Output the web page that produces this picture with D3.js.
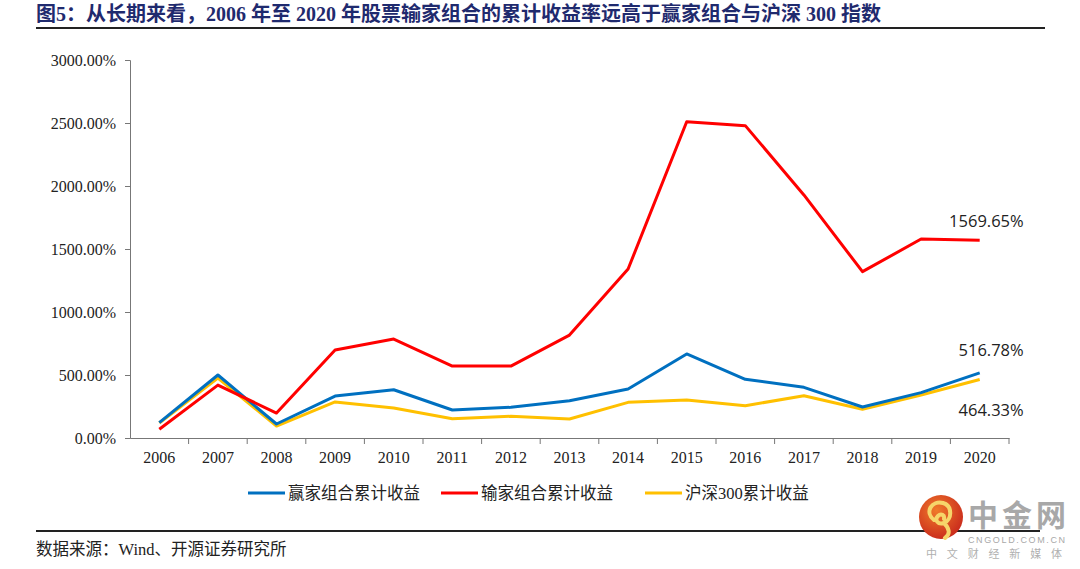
<!DOCTYPE html>
<html>
<head>
<meta charset="utf-8">
<script src="https://cdn.jsdelivr.net/npm/d3@7"></script>
<style>
body { margin: 0; background: #fff; }
svg { display: block; }
</style>
</head>
<body>
<script>
// data
var years = ['2006', '2007', '2008', '2009', '2010', '2011', '2012', '2013',
             '2014', '2015', '2016', '2017', '2018', '2019', '2020'];
var winners = [122, 500, 111, 333, 383, 222, 244, 296, 389, 667, 466, 402, 246, 360, 516.78];
var losers = [70, 420, 198, 698, 785, 571, 571, 817, 1341, 2510, 2479, 1929, 1320, 1579, 1569.65];
var hs300 = [119, 476, 95, 286, 238, 153, 172, 151, 283, 302, 256, 336, 228, 341, 464.33];
var yTicks = [0, 500, 1000, 1500, 2000, 2500, 3000];
var seriesNames = ['赢家组合累计收益', '输家组合累计收益', '沪深300累计收益'];
var colors = ['#0070c0', '#ff0000', '#ffc000'];

var w = 1080;
var h = 569;
var serif = '"Liberation Serif", "Noto Sans CJK SC", serif';

var svg = d3.select('body')
    .append('svg')
    .attr('width', w)
    .attr('height', h);

// title
svg.append('text')
    .attr('x', 36)
    .attr('y', 21)
    .attr('font-family', serif)
    .attr('font-weight', 'bold')
    .attr('font-size', '20px')
    .attr('fill', '#1f2a6e')
    .attr('textLength', 845)
    .text('图5：从长期来看，2006 年至 2020 年股票输家组合的累计收益率远高于赢家组合与沪深 300 指数');

svg.append('line')
    .attr('x1', 36).attr('x2', 1045)
    .attr('y1', 28).attr('y2', 28)
    .attr('stroke', '#222').attr('stroke-width', 2);

var xScale = d3.scaleBand()
    .domain(years)
    .range([130, 1009]);

var yScale = d3.scaleLinear()
    .domain([0, 3000])
    .range([438, 60]);

// y axis
var yAxis = svg.append('g')
    .attr('transform', 'translate(130,0)')
    .call(d3.axisLeft(yScale).tickValues(yTicks).tickSize(5).tickPadding(9)
        .tickFormat(d => d3.format('.2f')(d) + '%'));
yAxis.select('.domain').attr('stroke', '#777');
yAxis.selectAll('.tick line').attr('stroke', '#777');
yAxis.selectAll('text')
    .attr('font-family', serif)
    .attr('font-size', '16px')
    .attr('fill', '#222');

// x axis, ticks on the band edges
var xAxis = svg.append('g')
    .attr('transform', 'translate(0,438)')
    .call(d3.axisBottom(xScale).tickSize(0).tickPadding(14));
xAxis.select('.domain').attr('stroke', '#777');
xAxis.selectAll('text')
    .attr('font-family', serif)
    .attr('font-size', '16px')
    .attr('fill', '#222');
xAxis.selectAll('.edge')
    .data(years)
    .enter()
    .append('line')
    .attr('x1', d => xScale(d) + xScale.bandwidth())
    .attr('x2', d => xScale(d) + xScale.bandwidth())
    .attr('y1', 0).attr('y2', 6)
    .attr('stroke', '#777');

// lines
var line = d3.line()
    .x((d, i) => xScale(years[i]) + xScale.bandwidth() / 2)
    .y(d => yScale(d));

var allSeries = [winners, losers, hs300];
[2, 0, 1].forEach(function (k) {
    svg.append('path')
        .datum(allSeries[k])
        .attr('d', line)
        .attr('fill', 'none')
        .attr('stroke', colors[k])
        .attr('stroke-width', 3)
        .attr('stroke-linejoin', 'round');
});

// end labels
var lastX = xScale('2020') + xScale.bandwidth() / 2;
var endLabels = [
    { v: losers[14], dy: -13 },
    { v: winners[14], dy: -17 },
    { v: hs300[14], dy: 37 }
];
svg.selectAll('.endlabel')
    .data(endLabels)
    .enter()
    .append('text')
    .attr('x', lastX + 44)
    .attr('y', d => yScale(d.v) + d.dy)
    .attr('text-anchor', 'end')
    .attr('font-family', '"Open Sans", "Liberation Sans", sans-serif')
    .attr('font-size', '16.5px')
    .attr('fill', '#222')
    .text(d => d3.format('.2f')(d.v) + '%');

// legend
var legendX = [248, 441, 645];
var legend = svg.selectAll('.legend')
    .data(seriesNames)
    .enter()
    .append('g')
    .attr('transform', (d, i) => 'translate(' + legendX[i] + ',493)');
legend.append('line')
    .attr('x1', 0).attr('x2', 37)
    .attr('stroke', (d, i) => colors[i])
    .attr('stroke-width', 3);
legend.append('text')
    .attr('x', 40)
    .attr('y', 6)
    .attr('font-family', serif)
    .attr('font-size', '16.5px')
    .attr('fill', '#222')
    .text(d => d);

// source
svg.append('line')
    .attr('x1', 36).attr('x2', 1040)
    .attr('y1', 531).attr('y2', 531)
    .attr('stroke', '#222').attr('stroke-width', 2);
svg.append('text')
    .attr('x', 36)
    .attr('y', 555)
    .attr('font-family', serif)
    .attr('font-size', '16.5px')
    .attr('fill', '#222')
    .text('数据来源：Wind、开源证券研究所');

// watermark logo
var logo = svg.append('g');
var grad = svg.append('defs').append('radialGradient')
    .attr('id', 'lg').attr('cx', '40%').attr('cy', '35%').attr('r', '70%');
grad.append('stop').attr('offset', '0%').attr('stop-color', '#f07a2a');
grad.append('stop').attr('offset', '100%').attr('stop-color', '#c8281c');
logo.append('circle')
    .attr('cx', 941).attr('cy', 517).attr('r', 22)
    .attr('fill', 'url(#lg)');
logo.append('path')
    .attr('d', 'M934,520 C924,512 932,500 943,503 C953,506 952,520 944,523 C938,525 934,520 938,516 C941,513 945,515 944,519 M944,523 C949,528 951,534 945,538')
    .attr('fill', 'none')
    .attr('stroke', '#f6d56a')
    .attr('stroke-width', 4)
    .attr('stroke-linecap', 'round');
logo.append('text')
    .attr('x', 968).attr('y', 526)
    .attr('font-family', '"Noto Sans CJK SC", sans-serif')
    .attr('font-weight', 'bold')
    .attr('font-size', '30px')
    .attr('fill', '#a8a8a8')
    .attr('textLength', 98)
    .text('中金网');
logo.append('text')
    .attr('x', 968).attr('y', 543)
    .attr('font-family', '"Liberation Sans", sans-serif')
    .attr('font-size', '9px')
    .attr('fill', '#a8a8a8')
    .attr('textLength', 97)
    .text('CNGOLD.COM.CN');
logo.append('text')
    .attr('x', 926).attr('y', 558)
    .attr('font-family', '"Noto Sans CJK SC", sans-serif')
    .attr('font-size', '11px')
    .attr('fill', '#b0b0b0')
    .attr('textLength', 136)
    .text('中文财经新媒体');
</script>
</body>
</html>
